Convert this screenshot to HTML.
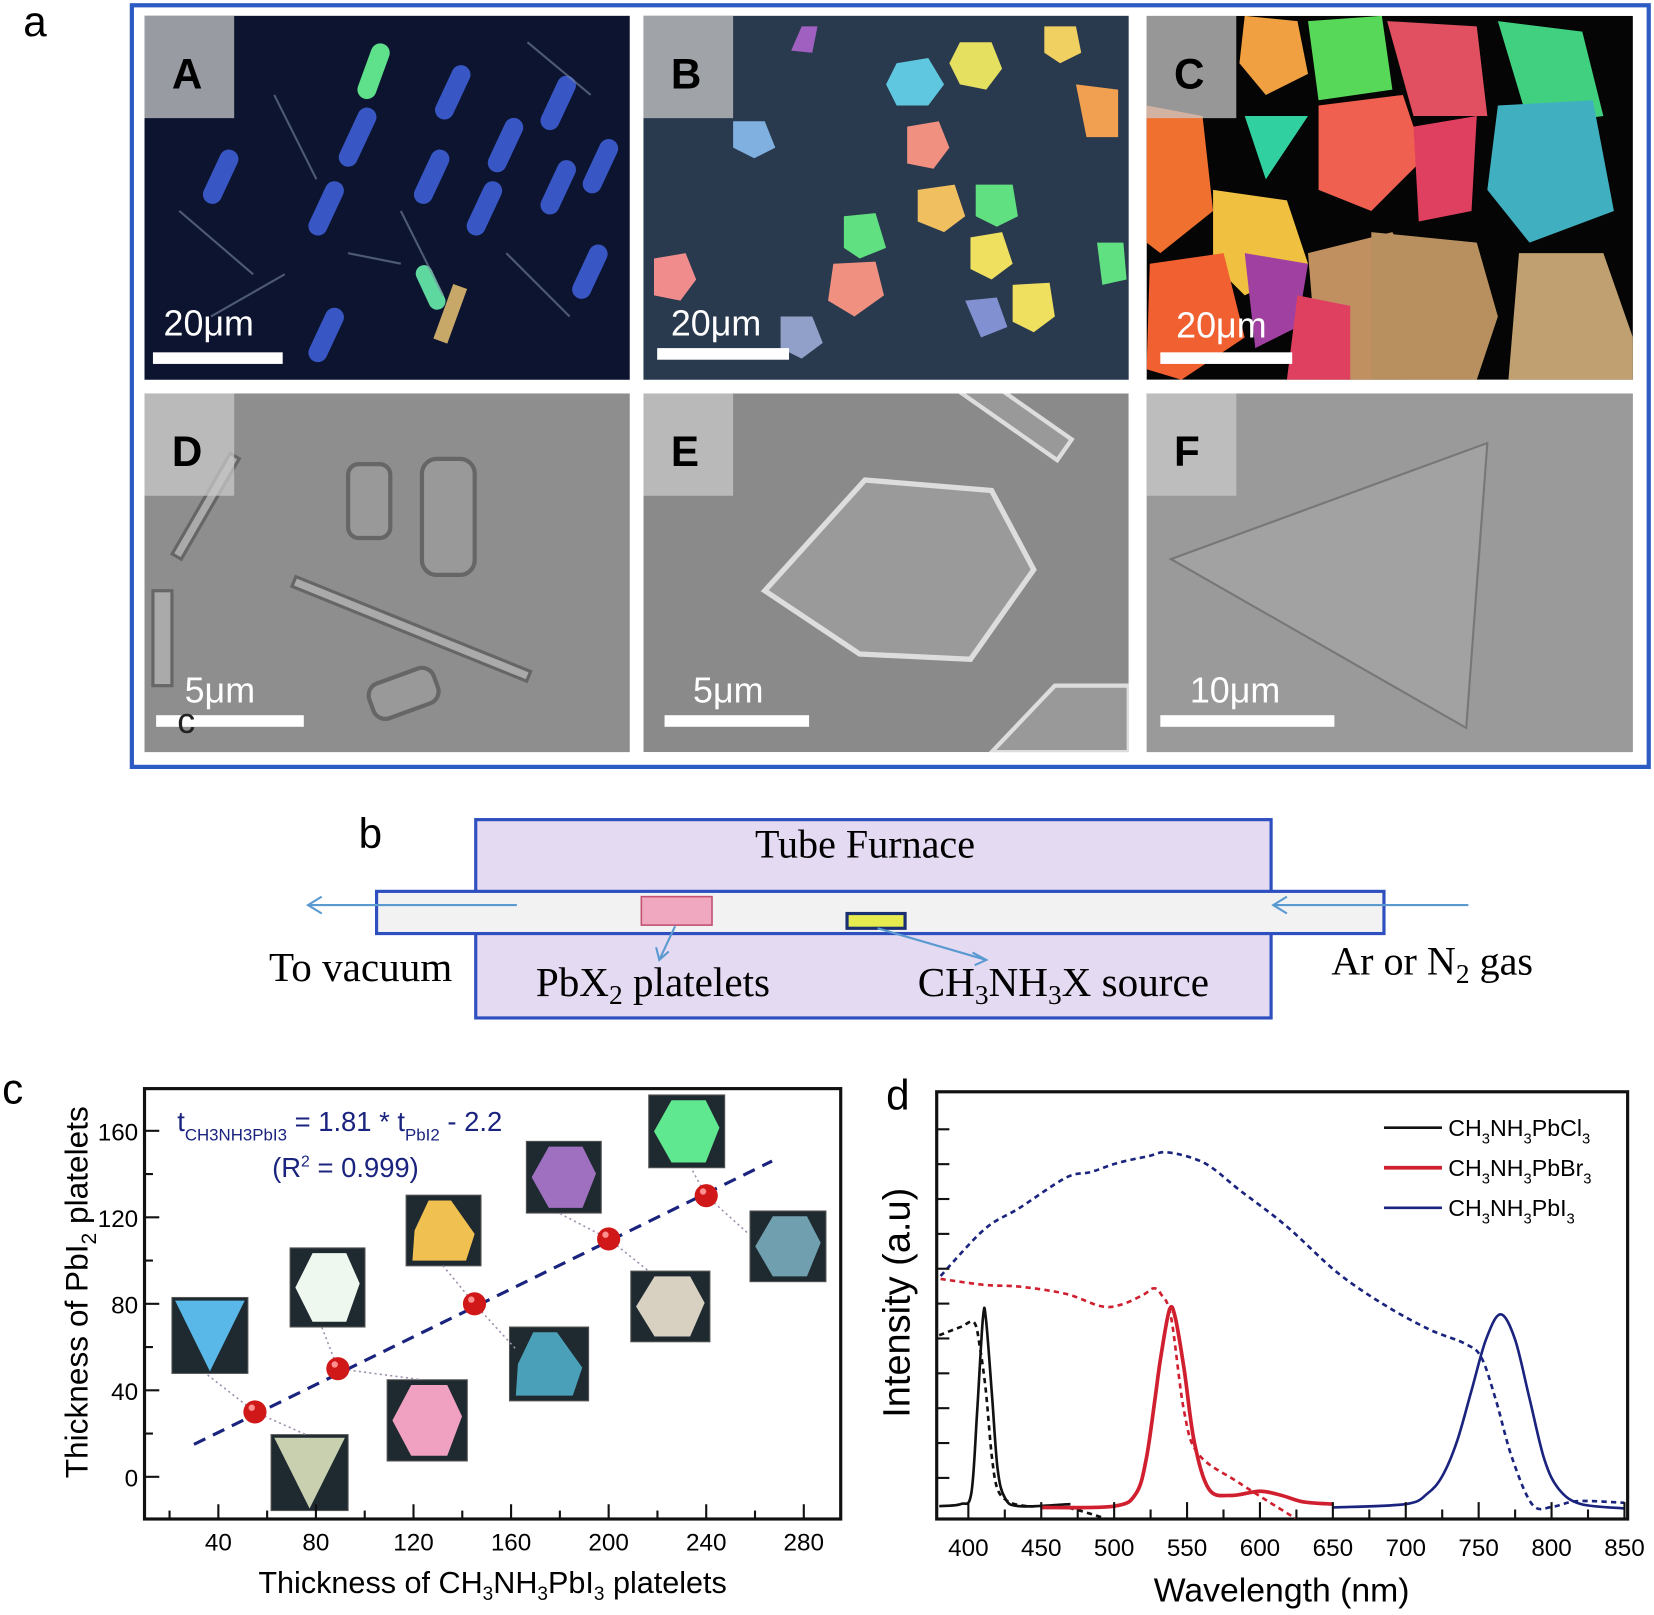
<!DOCTYPE html>
<html><head><meta charset="utf-8"><style>
html,body{margin:0;padding:0;background:#fff}
svg{display:block}
text{font-family:"Liberation Sans",sans-serif}
.serif{font-family:"Liberation Serif",serif}
</style></head><body>
<svg id="fig" width="1654" height="1615" viewBox="0 0 1568 1531" preserveAspectRatio="none">
<defs>
<clipPath id="clipE"><rect x="610" y="373" width="460" height="340"/></clipPath>
<clipPath id="clipC"><rect x="1087" y="15" width="461" height="345"/></clipPath>
</defs>
<!-- Panel a -->
<text x="22" y="34" font-size="40">a</text>
<rect x="125" y="5" width="1438" height="722" fill="#fff" stroke="#2d5bc4" stroke-width="4"/>
<g>
<rect x="137" y="15" width="460" height="345" fill="#0c1430"/>
<g fill="#3d5fd6" opacity="0.9">
<rect x="330" y="100" width="18" height="60" rx="9" transform="rotate(25 339 130)"/>
<rect x="420" y="60" width="18" height="55" rx="9" transform="rotate(25 429 88)"/>
<rect x="470" y="110" width="18" height="55" rx="9" transform="rotate(25 479 138)"/>
<rect x="520" y="70" width="18" height="55" rx="9" transform="rotate(25 529 98)"/>
<rect x="560" y="130" width="18" height="55" rx="9" transform="rotate(25 569 158)"/>
<rect x="300" y="170" width="18" height="55" rx="9" transform="rotate(25 309 198)"/>
<rect x="400" y="140" width="18" height="55" rx="9" transform="rotate(25 409 168)"/>
<rect x="450" y="170" width="18" height="55" rx="9" transform="rotate(25 459 198)"/>
<rect x="520" y="150" width="18" height="55" rx="9" transform="rotate(25 529 178)"/>
<rect x="300" y="290" width="18" height="55" rx="9" transform="rotate(25 309 318)"/>
<rect x="550" y="230" width="18" height="55" rx="9" transform="rotate(25 559 258)"/>
<rect x="200" y="140" width="18" height="55" rx="9" transform="rotate(25 209 168)"/>
</g>
<rect x="345" y="40" width="18" height="55" rx="9" fill="#5fe08a" transform="rotate(20 354 68)"/>
<rect x="400" y="250" width="16" height="45" rx="8" fill="#5fd8a0" transform="rotate(-25 408 272)"/>
<rect x="420" y="270" width="14" height="55" fill="#c8a868" transform="rotate(20 427 297)"/>
<g stroke="#7a8aa0" stroke-width="2" opacity="0.6">
<line x1="170" y1="200" x2="240" y2="260"/><line x1="260" y1="90" x2="300" y2="170"/><line x1="380" y1="200" x2="420" y2="280"/><line x1="480" y1="240" x2="540" y2="300"/><line x1="200" y1="300" x2="270" y2="260"/><line x1="500" y1="40" x2="560" y2="90"/><line x1="330" y1="240" x2="380" y2="250"/>
</g>
</g>
<g>
<rect x="610" y="15" width="460" height="345" fill="#2a3a4e"/>
<polygon points="850,60 880,55 895,80 880,100 850,100 840,80" fill="#5fc8e0"/>
<polygon points="910,40 940,40 950,65 935,85 910,80 900,60" fill="#e6e060"/>
<polygon points="990,25 1020,25 1025,50 1005,60 990,50" fill="#f0d060"/>
<polygon points="860,120 890,115 900,140 885,160 860,155" fill="#f09080"/>
<polygon points="870,180 905,175 915,205 895,220 870,210" fill="#f0c060"/>
<polygon points="925,175 960,175 965,205 945,215 925,205" fill="#60e080"/>
<polygon points="920,225 950,220 960,250 940,265 920,255" fill="#f0e060"/>
<polygon points="960,270 995,268 1000,300 980,315 960,305" fill="#f0e060"/>
<polygon points="620,245 650,240 660,265 645,285 620,280" fill="#f08c8c"/>
<polygon points="790,250 830,248 838,280 810,300 785,285" fill="#f09080"/>
<polygon points="800,205 830,202 840,235 815,245 800,235" fill="#60e080"/>
<polygon points="695,115 725,115 735,140 715,150 695,140" fill="#80b0e0"/>
<polygon points="740,300 770,300 780,325 760,340 740,330" fill="#90a0c8"/>
<polygon points="1020,80 1060,85 1060,130 1030,130" fill="#f0a050"/>
<polygon points="1040,230 1065,230 1068,265 1045,270" fill="#60e080"/>
<polygon points="915,285 945,282 955,310 930,320" fill="#8090d0"/>
<polygon points="760,25 775,25 770,50 750,48" fill="#a060c0"/>
</g>
<g clip-path="url(#clipC)">
<rect x="1087" y="15" width="461" height="345" fill="#050505"/>
<polygon points="1180,15 1230,20 1240,70 1200,90 1175,60" fill="#f0a040"/>
<polygon points="1240,20 1310,15 1320,85 1250,95" fill="#58d858"/>
<polygon points="1315,20 1400,25 1410,110 1340,110" fill="#e05060"/>
<polygon points="1420,20 1500,30 1520,110 1450,120" fill="#40d080"/>
<polygon points="1087,100 1140,110 1150,200 1100,240 1087,230" fill="#f07030"/>
<polygon points="1180,110 1240,110 1200,170" fill="#30d0a0"/>
<polygon points="1250,100 1330,90 1350,150 1300,200 1250,180" fill="#f06050"/>
<polygon points="1340,120 1400,110 1395,200 1345,210" fill="#e04060"/>
<polygon points="1420,100 1510,95 1530,200 1450,230 1410,180" fill="#40b0c0"/>
<polygon points="1150,180 1220,190 1240,250 1180,280 1150,250" fill="#f0c040"/>
<polygon points="1090,250 1160,240 1180,320 1120,360 1087,350" fill="#f06030"/>
<polygon points="1180,240 1240,250 1230,310 1190,330" fill="#a040a0"/>
<polygon points="1240,240 1320,220 1360,290 1330,360 1250,360" fill="#c09060"/>
<polygon points="1300,220 1400,230 1420,300 1400,360 1300,360" fill="#b89060"/>
<polygon points="1440,240 1520,240 1548,320 1548,360 1430,360" fill="#c0a070"/>
<polygon points="1230,280 1280,290 1280,360 1220,360" fill="#e04060"/>
</g>
<g>
<rect x="137" y="373" width="460" height="340" fill="#8e8e8e"/>
<rect x="330" y="440" width="40" height="70" rx="10" fill="#999" stroke="#666" stroke-width="4"/>
<rect x="400" y="435" width="50" height="110" rx="14" fill="#999" stroke="#666" stroke-width="4"/>
<rect x="190" y="425" width="10" height="110" fill="#aaa" stroke="#666" stroke-width="3" transform="rotate(30 195 480)"/>
<rect x="320" y="520" width="10" height="240" fill="#aaa" stroke="#666" stroke-width="3" transform="rotate(-68 325 570)"/>
<rect x="350" y="640" width="65" height="35" rx="12" fill="#999" stroke="#666" stroke-width="4" transform="rotate(-20 382 657)"/>
<rect x="145" y="560" width="18" height="90" fill="#aaa" stroke="#666" stroke-width="3"/>
</g>
<g clip-path="url(#clipE)">
<rect x="610" y="373" width="460" height="340" fill="#8a8a8a"/>
<polygon points="820,455 940,465 980,540 920,625 815,620 725,560" fill="#9a9a9a" stroke="#ddd" stroke-width="5"/>
<rect x="900" y="380" width="120" height="24" fill="#999" stroke="#ddd" stroke-width="4" transform="rotate(35 960 392)"/>
<polygon points="1000,650 1070,650 1070,713 940,713" fill="#999" stroke="#ddd" stroke-width="4"/>
</g>
<g>
<rect x="1087" y="373" width="461" height="340" fill="#9a9a9a"/>
<polygon points="1110,530 1410,420 1390,690" fill="#a2a2a2" stroke="#777" stroke-width="2"/>
</g>
<g font-weight="bold" font-size="40">
<rect x="137" y="15" width="85" height="97" fill="#c8c8c8" opacity="0.75"/><text x="163" y="84">A</text>
<rect x="610" y="15" width="85" height="97" fill="#c8c8c8" opacity="0.75"/><text x="636" y="84">B</text>
<rect x="1087" y="15" width="85" height="97" fill="#c8c8c8" opacity="0.75"/><text x="1113" y="84">C</text>
<rect x="137" y="373" width="85" height="97" fill="#c8c8c8" opacity="0.75"/><text x="163" y="442">D</text>
<rect x="610" y="373" width="85" height="97" fill="#c8c8c8" opacity="0.75"/><text x="636" y="442">E</text>
<rect x="1087" y="373" width="85" height="97" fill="#c8c8c8" opacity="0.75"/><text x="1113" y="442">F</text>
</g>
<g fill="#fff" font-size="34">
<rect x="145" y="334" width="123" height="11"/><text x="155" y="318">20μm</text>
<rect x="623" y="330" width="125" height="11"/><text x="636" y="318">20μm</text>
<rect x="1100" y="334" width="125" height="11"/><text x="1115" y="320">20μm</text>
<rect x="148" y="678" width="140" height="11"/><text x="175" y="666">5μm</text>
<rect x="630" y="678" width="137" height="11"/><text x="657" y="666">5μm</text>
<rect x="1100" y="678" width="165" height="11"/><text x="1128" y="666">10μm</text>
</g>
<text x="168" y="695" font-size="34" fill="#222">c</text>

<!-- Panel b -->
<text x="340" y="804" font-size="40">b</text>
<g>
<rect x="451" y="777" width="754" height="188" fill="#e4daf2" stroke="#2d4fc0" stroke-width="3"/>
<rect x="357" y="845" width="955" height="40" fill="#f2f2f2" stroke="#2d4fc0" stroke-width="3"/>
<rect x="608" y="850" width="67" height="27" fill="#f0a8c0" stroke="#c05070" stroke-width="1.5"/>
<rect x="803" y="866" width="55" height="14" fill="#e6ec50" stroke="#1a3070" stroke-width="3"/>
<g stroke="#5a9ad0" stroke-width="2" fill="none">
<line x1="490" y1="858" x2="292" y2="858"/><polyline points="305,850 292,858 305,866"/>
<line x1="1392" y1="858" x2="1207" y2="858"/><polyline points="1220,850 1207,858 1220,866"/>
<line x1="640" y1="878" x2="625" y2="910"/><polyline points="622,898 625,910 634,902"/>
<line x1="832" y1="880" x2="935" y2="910"/><polyline points="922,903 935,910 924,915"/>
</g>
<text class="serif" x="820" y="813" font-size="38" text-anchor="middle">Tube Furnace</text>
<text class="serif" x="255" y="930" font-size="39">To vacuum</text>
<text class="serif" x="508" y="944" font-size="39">PbX<tspan font-size="26" dy="8">2</tspan><tspan dy="-8"> platelets</tspan></text>
<text class="serif" x="870" y="944" font-size="39">CH<tspan font-size="26" dy="8">3</tspan><tspan dy="-8">NH</tspan><tspan font-size="26" dy="8">3</tspan><tspan dy="-8">X source</tspan></text>
<text class="serif" x="1262" y="924" font-size="38">Ar or N<tspan font-size="26" dy="8">2</tspan><tspan dy="-8"> gas</tspan></text>
</g>

<!-- Panel c -->
<text x="2" y="1046" font-size="40">c</text>
<g id="chartC"></g>
<!-- Panel d -->
<text x="840" y="1052" font-size="40">d</text>
<g id="chartD"></g>
</svg>
<script>
// ---- Panel c data ----
const cXTicks = [40, 80, 120, 160, 200, 240, 280];
const cYTicks = [0, 40, 80, 120, 160];
const cPointsX = [55, 89, 145, 200, 240];
const cPointsY = [30, 50, 80, 110, 130];
const cFitX = [30, 267];
const cFitY = [15, 146];
// ---- Panel d data ----
const dXTicks = [400, 450, 500, 550, 600, 650, 700, 750, 800, 850];
const absIX = [381,411,435,467,484,502,523,537,562,586,618,653,685,716,741,752,762,773,787,801,818,850];
const absIY = [.569,.678,.728,.799,.812,.833,.849,.858,.833,.770,.686,.577,.502,.444,.410,.377,.276,.142,.033,.029,.042,.038];
const plIX = [650,700,715,725,735,745,755,765,775,785,795,805,820,850];
const plIY = [.027,.035,.06,.1,.18,.3,.42,.479,.42,.28,.14,.07,.035,.025];
const absBrX = [381,411,435,467,491,505,520,527,532,539,548,558,586,625];
const absBrY = [.562,.548,.544,.527,.498,.502,.525,.540,.527,.473,.251,.151,.084,0];
const plBrX = [450,500,515,522,528,532,538,542,548,555,565,580,600,615,630,650];
const plBrY = [.027,.03,.06,.14,.28,.38,.49,.47,.35,.18,.07,.055,.065,.055,.04,.035];
const absClX = [380,395,404,408,412,416,420,428,440,450,470,495];
const absClY = [.43,.45,.46,.40,.30,.15,.07,.04,.03,.03,.025,0];
const plClX = [380,395,402,406,410,412,416,420,425,435,470];
const plClY = [.03,.035,.06,.25,.47,.47,.30,.12,.05,.03,.035];
const legendLabels = [["CH","3","NH","3","PbCl","3"],["CH","3","NH","3","PbBr","3"],["CH","3","NH","3","PbI","3"]];
const legendColors = ["#111", "#d02030", "#1a237e"];

const NS = "http://www.w3.org/2000/svg";
function mk(tag, attrs, parent){const e=document.createElementNS(NS,tag);for(const k in attrs)e.setAttribute(k,attrs[k]);parent.appendChild(e);return e;}

// ---- Chart C ----
(function(){
const g = document.getElementById('chartC');
const L=137,R=797,T=1032,B=1440;
const sx = v => 207 + (v-40)*(762-207)/240;
const sy = v => 1400 - v*(1400-1072)/160;
const frame = mk('rect',{x:L,y:T,width:R-L,height:B-T,fill:'none',stroke:'#111','stroke-width':3},g);


const insets = [[163,1230,72,72,'#5ab8e8','tri'],[275,1183,71,75,'#eef8ee','hex'],[385,1133,71,67,'#f0c050','pent'],[499,1082,71,68,'#a070c0','hex'],[615,1038,72,69,'#60e890','hex'],[257,1360,73,72,'#c8d0b0','tri'],[367,1308,76,77,'#f0a0c0','hex'],[483,1258,75,70,'#4aa0b8','pent'],[598,1205,75,67,'#d8d0c0','hex'],[711,1148,72,67,'#70a0b0','hex']];
insets.forEach((s,i)=>{
  const [x,y,w,h,c,sh]=s;
  const ig=mk('g',{},g);
  
  
  mk('rect',{x:x,y:y,width:w,height:h,fill:'#1e2a30',stroke:'#555','stroke-width':1},ig);
  let pts;
  if(sh==='tri') pts=[[x+3,y+3],[x+w-3,y+3],[x+w*0.5,y+h-2]];
  else if(sh==='pent') pts=[[x+w*0.3,y+5],[x+w*0.6,y+5],[x+w-6,y+h*0.55],[x+w*0.8,y+h-5],[x+6,y+h-5],[x+8,y+h*0.5]];
  else pts=[[x+w*0.3,y+5],[x+w*0.75,y+5],[x+w-5,y+h*0.45],[x+w*0.75,y+h-5],[x+w*0.3,y+h-5],[x+5,y+h*0.5]];
  mk('polygon',{points:pts.map(p=>p.join(',')).join(' '),fill:c},ig);
});
const conn=[[55,30,195,1302],[55,30,290,1360],[89,50,305,1258],[89,50,400,1308],[145,80,420,1200],[145,80,490,1280],[200,110,530,1150],[200,110,615,1205],[240,130,655,1107],[240,130,710,1170]];
conn.forEach(c=>{mk('line',{x1:sx(c[0]),y1:sy(c[1]),x2:c[2],y2:c[3],stroke:'#a090b0','stroke-width':1.5,'stroke-dasharray':'2 3'},g);});
const fit = mk('line',{x1:sx(cFitX[0]),y1:sy(cFitY[0]),x2:sx(cFitX[1]),y2:sy(cFitY[1]),stroke:'#1a237e','stroke-width':3,'stroke-dasharray':'12 8'},g);


cPointsX.forEach((v,i)=>{
  const p=mk('circle',{cx:sx(v),cy:sy(cPointsY[i]),r:11,fill:'#d01818'},g);
  
  
  mk('circle',{cx:sx(v)-3,cy:sy(cPointsY[i])-4,r:3,fill:'#ff9090'},g);
});
for(let v=20; v<=280; v+=20){
  const major = v%40===0;
  mk('line',{x1:sx(v),y1:B,x2:sx(v),y2:B-(major?14:8),stroke:'#111','stroke-width':2},g);
}
cXTicks.forEach(v=>{
  const t=mk('text',{x:sx(v),y:1470,'font-size':23,'text-anchor':'middle'},g);
  t.textContent=v;
  
  
});
for(let v=-20; v<=180; v+=20){
  const y=sy(v); if(y<T||y>B) continue;
  const major = v%40===0;
  mk('line',{x1:L,y1:y,x2:L+(major?14:8),y2:y,stroke:'#111','stroke-width':2},g);
}
cYTicks.forEach(v=>{
  const t=mk('text',{x:131,y:sy(v)+9,'font-size':23,'text-anchor':'end'},g);
  t.textContent=v;
  
  
});
const xt=mk('text',{x:467,y:1510,'font-size':29,'text-anchor':'middle'},g);
xt.innerHTML='Thickness of CH<tspan font-size="18" dy="7">3</tspan><tspan dy="-7">NH</tspan><tspan font-size="18" dy="7">3</tspan><tspan dy="-7">PbI</tspan><tspan font-size="18" dy="7">3</tspan><tspan dy="-7"> platelets</tspan>';


const yt=mk('text',{x:0,y:0,'font-size':30,'text-anchor':'middle',transform:'translate(83,1225) rotate(-90)'},g);
yt.innerHTML='Thickness of PbI<tspan font-size="20" dy="8">2</tspan><tspan dy="-8"> platelets</tspan>';


const eq=mk('text',{x:168,y:1072,'font-size':26,fill:'#1a237e'},g);
eq.innerHTML='t<tspan font-size="16" dy="9">CH3NH3PbI3</tspan><tspan dy="-9"> = 1.81 * t</tspan><tspan font-size="16" dy="9">PbI2</tspan><tspan dy="-9"> - 2.2</tspan>';


const r2=mk('text',{x:258,y:1116,'font-size':26,fill:'#1a237e'},g);
r2.innerHTML='(R<tspan font-size="15" dy="-10">2</tspan><tspan dy="10"> = 0.999)</tspan>';


})();

// ---- Chart D ----
(function(){
const g=document.getElementById('chartD');
const L=888,R=1543,T=1035,B=1440;
const sx = v => 918 + (v-400)*(1540-918)/450;
const sy = f => B - f*(B-T);
const cp=mk('clipPath',{id:'clipD'},g);
mk('rect',{x:L,y:T,width:R-L,height:B-T},cp);
const frame=mk('rect',{x:L,y:T,width:R-L,height:B-T,fill:'none',stroke:'#111','stroke-width':3},g);


function line(xs,ys,color,dash,name,w){
  const P=xs.map((x,i)=>[sx(x),sy(ys[i])]);
  let d='M'+P[0][0].toFixed(1)+','+P[0][1].toFixed(1);
  for(let i=0;i<P.length-1;i++){
    const p0=P[Math.max(0,i-1)],p1=P[i],p2=P[i+1],p3=P[Math.min(P.length-1,i+2)];
    const c1=[p1[0]+(p2[0]-p0[0])/6,p1[1]+(p2[1]-p0[1])/6];
    const c2=[p2[0]-(p3[0]-p1[0])/6,p2[1]-(p3[1]-p1[1])/6];
    d+=' C'+c1.map(v=>v.toFixed(1)).join(',')+' '+c2.map(v=>v.toFixed(1)).join(',')+' '+p2.map(v=>v.toFixed(1)).join(',');
  }
  const p=mk('path',{d:d,fill:'none',stroke:color,'stroke-width':w,'stroke-linejoin':'round','clip-path':'url(#clipD)'},g);
  if(dash) p.setAttribute('stroke-dasharray',dash);
  
  
}
line(absIX,absIY,'#1a237e','5 4','absorption-pbi3',2.5);
line(absBrX,absBrY,'#d02030','5 4','absorption-pbbr3',2.5);
line(absClX,absClY,'#111','5 4','absorption-pbcl3',2.5);
line(plClX,plClY,'#111',null,'pl-pbcl3',2.5);
line(plBrX,plBrY,'#d02030',null,'pl-pbbr3',3.5);
line(plIX,plIY,'#1a237e',null,'pl-pbi3',2.5);
for(let v=400; v<=850; v+=25){
  mk('line',{x1:sx(v),y1:B,x2:sx(v),y2:B-(v%50===0?16:9),stroke:'#111','stroke-width':2},g);
}
dXTicks.forEach(v=>{
  const t=mk('text',{x:sx(v),y:1475,'font-size':23,'text-anchor':'middle'},g);
  t.textContent=v;
  
  
});
for(let k=0;k<=10;k++){
  const f=(0.0962+k*0.0816);
  mk('line',{x1:L,y1:sy(f),x2:L+12,y2:sy(f),stroke:'#111','stroke-width':2},g);
}
legendLabels.forEach((lab,i)=>{
  const y=1069+i*38;
  const l=mk('line',{x1:1312,y1:y,x2:1367,y2:y,stroke:legendColors[i],'stroke-width':i===1?3.5:2.5},g);
  
  
  const t=mk('text',{x:1373,y:y+8,'font-size':22},g);
  t.innerHTML=lab.map((s,j)=>j%2? '<tspan font-size="14" dy="7">'+s+'</tspan>' : '<tspan dy="'+(j?-7:0)+'">'+s+'</tspan>').join('');
  
  
});
const xt=mk('text',{x:1215,y:1518,'font-size':32,'text-anchor':'middle'},g);
xt.textContent='Wavelength (nm)';


const yt=mk('text',{x:0,y:0,'font-size':36,'text-anchor':'middle',transform:'translate(862,1235) rotate(-90)'},g);
yt.textContent='Intensity (a.u)';


})();
</script>
</body></html>
